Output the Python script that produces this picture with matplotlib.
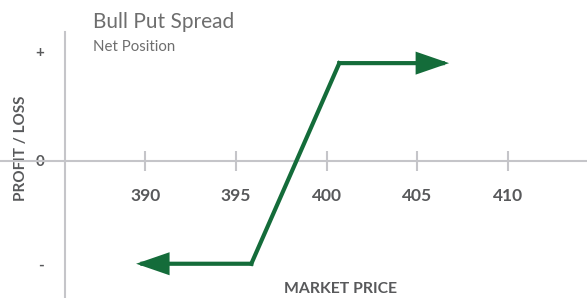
import matplotlib
matplotlib.use("Agg")
import matplotlib.pyplot as plt

# payoff profile (market price vs profit/loss, arbitrary P/L units)
price = [389.5, 395.85, 400.7, 406.75]
pnl = [-2.1, -2.1, 2.0, 2.0]

price_ticks = [390, 395, 400, 405, 410]
pnl_ticks = [2.24, 0, -2.1]
pnl_tick_labels = ["+", "0", "-"]

green = "#146c3a"
axis_grey = "#c5c5c9"
text_grey = "#58595b"

plt.rcParams["font.family"] = ["Lato", "DejaVu Sans"]

fig = plt.figure(figsize=(5.87, 2.98), dpi=100)
ax = fig.add_axes([0, 0, 1, 1])
ax.set_xlim(382.0, 414.35)
ax.set_ylim(-2.8, 3.29)

for side in ("top", "right"):
    ax.spines[side].set_visible(False)
ax.spines["left"].set_position(("data", 385.58))
ax.spines["left"].set_bounds(-2.8, 2.63)
ax.spines["bottom"].set_position(("data", 0))
for side in ("left", "bottom"):
    ax.spines[side].set_color(axis_grey)
    ax.spines[side].set_linewidth(1.5)

ax.set_xticks(price_ticks)
ax.set_xticklabels([str(p) for p in price_ticks])
ax.tick_params(axis="x", direction="inout", length=15, width=1.5, color=axis_grey,
               labelsize=12.5, labelcolor=text_grey, pad=12)
for lbl in ax.get_xticklabels():
    lbl.set_fontweight("bold")

ax.set_yticks(pnl_ticks)
ax.set_yticklabels(pnl_tick_labels)
ax.tick_params(axis="y", length=0, labelsize=11, labelcolor=text_grey, pad=15)
for lbl in ax.get_yticklabels():
    lbl.set_fontweight("bold")

ax.set_xlabel("MARKET PRICE", fontsize=11.3, fontweight="bold", color=text_grey)
ax.xaxis.set_label_coords(340 / 587, 16 / 298)
ax.set_ylabel("PROFIT / LOSS", fontsize=11, fontweight="bold", color=text_grey)
ax.yaxis.set_label_coords(28 / 587, 150 / 298)

# rising leg between the two strikes; the flat legs are drawn with their arrowheads
ax.plot(price[1:3], pnl[1:3], color=green, linewidth=3, solid_capstyle="projecting",
        zorder=3)
for tip, corner in ((0, 1), (3, 2)):
    ax.annotate("", xy=(price[tip], pnl[tip]), xytext=(price[corner], pnl[corner]),
                arrowprops=dict(arrowstyle="-|>,head_length=1.8,head_width=0.62",
                                color=green, lw=3, shrinkA=0, shrinkB=0,
                                joinstyle="miter", capstyle="projecting"),
                zorder=4)

fig.text(93 / 587, 1 - 22 / 298, "Bull Put Spread", fontsize=15, color="#6e6e6e",
         va="center", ha="left")
fig.text(93 / 587, 1 - 47 / 298, "Net Position", fontsize=10.8, color="#6e6e6e",
         va="center", ha="left")

fig.savefig("out.png", dpi=100)
